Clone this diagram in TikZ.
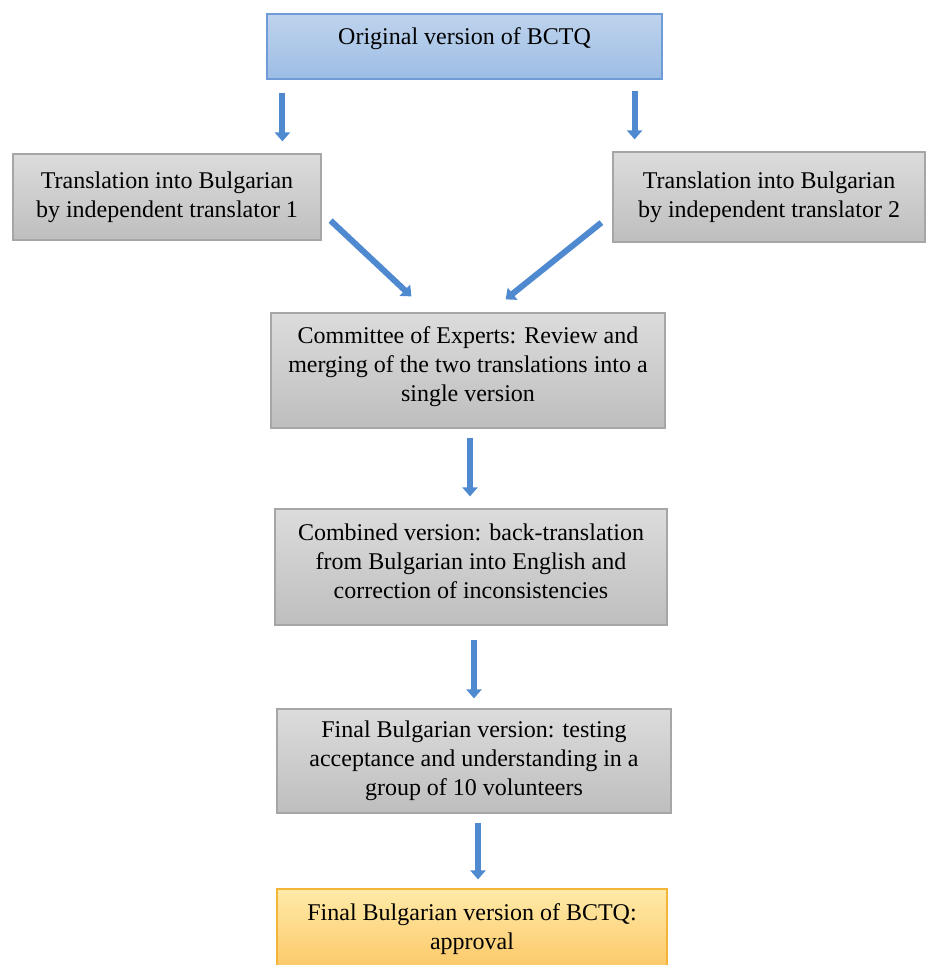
\documentclass[tikz,border=0pt]{standalone}
\usepackage{fontspec}
\setmainfont{Liberation Serif}
\usetikzlibrary{arrows.meta}
\definecolor{greytop}{HTML}{DCDCDC}
\definecolor{greybot}{HTML}{BEBEBE}
\definecolor{greyline}{HTML}{A6A6A6}
\definecolor{bluetop}{HTML}{BED3ED}
\definecolor{bluebot}{HTML}{9DBDE5}
\definecolor{blueline}{HTML}{6F9BD6}
\definecolor{orgtop}{HTML}{FFEAA8}
\definecolor{orgbot}{HTML}{FCC868}
\definecolor{orgline}{HTML}{F3B43A}
\definecolor{arrowblue}{HTML}{4F8AD0}
\definecolor{arrowfill}{HTML}{5B9BD5}
\tikzset{
  basebox/.style={rectangle, inner sep=0pt, align=center, line width=1.2pt,
    font=\fontsize{24}{29}\selectfont},
  greybox/.style={basebox, draw=greyline, top color=greytop, bottom color=greybot},
  bluebox/.style={basebox, draw=blueline, top color=bluetop, bottom color=bluebot},
  orgbox/.style={basebox, draw=orgline, top color=orgtop, bottom color=orgbot},
  arr/.style={draw=arrowblue, line width=6pt,
    -{Triangle[width=15pt,length=9pt,fill=arrowblue]}},
  arrin/.style={draw=arrowfill, line width=3pt, shorten >=6pt}
}
\begin{document}
\begin{tikzpicture}[x=1pt,y=-1pt]
\useasboundingbox[fill=white] (0,0) rectangle (927,965);

\node[bluebox, minimum width=395pt, minimum height=65pt, text height=18pt, text depth=22pt] (top) at (464.5,46.5) {Original version of BCTQ};
\node[greybox, minimum width=308pt, minimum height=86pt] (T1) at (167,197) {Translation into Bulgarian\\by independent translator 1};
\node[greybox, minimum width=312pt, minimum height=90pt] (T2) at (769,197) {Translation into Bulgarian\\by independent translator 2};
\node[greybox, minimum width=394pt, minimum height=115pt, text depth=12pt] (com) at (468,370.5) {Committee of Experts: Review and\\merging of the two translations into a\\single version};
\node[greybox, minimum width=392pt, minimum height=116pt, text depth=12pt] (comb) at (471,567) {Combined version: back-translation\\from Bulgarian into English and\\correction of inconsistencies};
\node[greybox, minimum width=394pt, minimum height=104pt] (fin) at (474,761) {Final Bulgarian version: testing\\acceptance and understanding in a\\group of 10 volunteers};
\node[orgbox, minimum width=390pt, minimum height=80pt] (app) at (472,929) {Final Bulgarian version of BCTQ:\\approval};

\coordinate (a1s) at ([xshift=16pt,yshift=-13pt]top.south west);
\coordinate (a2s) at ([xshift=-28pt,yshift=-11pt]top.south east);
\draw[arr, shorten >=12pt] (a1s) -- (a1s |- T1.north);
\draw[arr, shorten >=12pt] (a2s) -- (a2s |- T2.north);

\draw[arr] ([xshift=9pt,yshift=20pt]T1.south east) -- ([xshift=141pt,yshift=16pt]com.north west);
\draw[arr] ([xshift=-11pt,yshift=20pt]T2.south west) -- ([xshift=-160pt,yshift=13pt]com.north east);

\coordinate (v1s) at ([xshift=2pt,yshift=-9pt]com.south);
\coordinate (v2s) at ([xshift=3pt,yshift=-14pt]comb.south);
\coordinate (v3s) at ([xshift=4pt,yshift=-9pt]fin.south);
\draw[arr, shorten >=12pt] (v1s) -- (v1s |- comb.north);
\draw[arr, shorten >=10pt] (v2s) -- (v2s |- fin.north);
\draw[arr, shorten >=9pt] (v3s) -- (v3s |- app.north);
\end{tikzpicture}
\end{document}
